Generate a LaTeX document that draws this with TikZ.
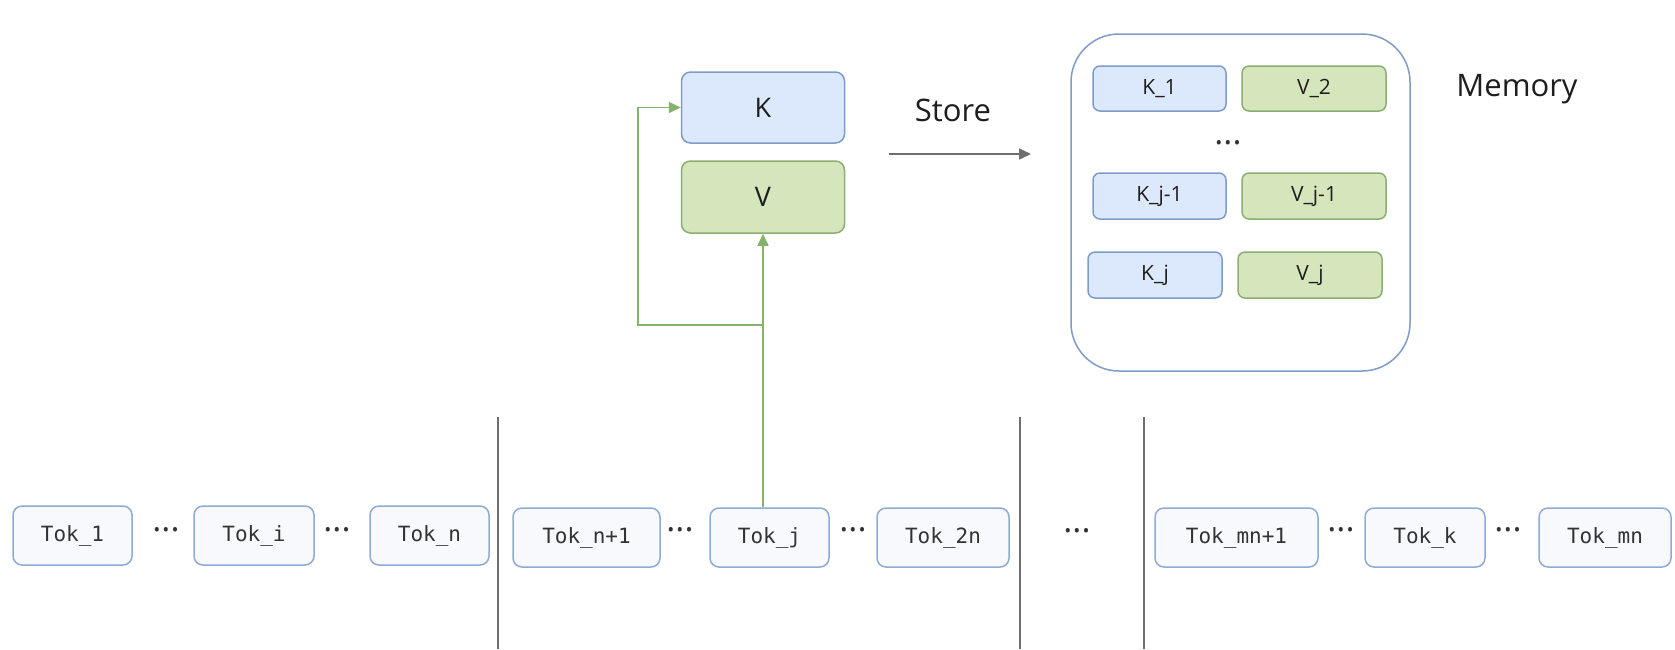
\documentclass[tikz,border=0pt]{standalone}
\usepackage{fontspec}
\setmainfont{Open Sans}
\newfontfamily\tokfont{DejaVu Sans Mono}
\usetikzlibrary{arrows.meta,calc}

\definecolor{kfill}{HTML}{DCE8FB}
\definecolor{kdraw}{HTML}{7F9CC9}
\definecolor{vfill}{HTML}{D5E6BC}
\definecolor{vdraw}{HTML}{8BAE73}
\definecolor{tokfill}{HTML}{F7F9FC}
\definecolor{tokdraw}{HTML}{8EABD6}
\definecolor{flow}{HTML}{86B26C}
\definecolor{sep}{HTML}{6E6E6E}
\definecolor{ink}{HTML}{1E1E1E}

\tikzset{
  kbox/.style={draw=kdraw, fill=kfill, line width=1.5pt, rounded corners=9pt,
    inner sep=0pt, text=ink, font=\fontsize{27}{30}\selectfont},
  vbox/.style={kbox, draw=vdraw, fill=vfill},
  memk/.style={kbox, font=\fontsize{21}{24}\selectfont, rounded corners=7pt},
  memv/.style={memk, draw=vdraw, fill=vfill},
  tok/.style={draw=tokdraw, fill=tokfill, line width=1.5pt, rounded corners=9pt,
    inner sep=0pt, minimum height=59pt, text=black!80,
    font=\tokfont\fontsize{21}{24}\selectfont},
  gap/.style={inner sep=0pt, text=black!80, font=\fontsize{34}{36}\selectfont},
  flowarrow/.style={draw=flow, line width=1.6pt, -{Triangle[length=12pt,width=11pt]}},
  sepline/.style={draw=sep, line width=1.3pt},
  label/.style={text=ink, font=\fontsize{31}{34}\selectfont}
}

\begin{document}
\begin{tikzpicture}[x=1pt,y=-1pt]
\useasboundingbox[fill=white] (0,0) rectangle (1675,649);

% key / value of the current token
\node[kbox, minimum width=163pt, minimum height=71pt] (K) at (763,107.5) {K};
\node[vbox, minimum width=163pt, minimum height=72pt] (V) at (763,197) {V};

% store step
\node[label] (store) at (953,110) {Store};
\coordinate (st0) at (889,154);
\coordinate (st1) at (1031,154);
\draw[draw=sep, line width=1.6pt, -{Triangle[length=12pt,width=11pt]}, color=sep] (st0) -- (st1);

% memory bank
\node[draw=kdraw, line width=1.5pt, rounded corners=48pt, minimum width=339pt,
      minimum height=337pt, inner sep=0pt] (mem) at (1240.5,202.5) {};
\node[memk, minimum width=133pt, minimum height=45pt] (k1) at (1159.5,88.5) {K\_1};
\node[memv, minimum width=144pt, minimum height=45pt] (v2) at (1314,88.5) {V\_2};
\node[gap] (mdots) at (1228,143) {...};
\node[memk, minimum width=133pt, minimum height=46pt] (kj1) at (1159.5,196) {K\_j-1};
\node[memv, minimum width=144pt, minimum height=46pt] (vj1) at (1314,196) {V\_j-1};
\node[memk, minimum width=134pt, minimum height=46pt] (kj) at (1155,275) {K\_j};
\node[memv, minimum width=144pt, minimum height=46pt] (vj) at (1310,275) {V\_j};
\node[label] (memlabel) at (1517,89) {Memory};

% token sequence, first segment
\node[tok, minimum width=119pt] (t1) at (72.5,535.5) {Tok\_1};
\node[gap] (d1) at (166,530) {...};
\node[tok, minimum width=120pt] (ti) at (254,535.5) {Tok\_i};
\node[gap] (d2) at (337,530) {...};
\node[tok, minimum width=119pt] (tn) at (429.5,535.5) {Tok\_n};

% second segment
\node[tok, minimum width=147pt] (tn1) at (586.5,537.5) {Tok\_n+1};
\node[gap] (d3) at (680,530) {...};
\node[tok, minimum width=119pt] (tj) at (769.5,537.5) {Tok\_j};
\node[gap] (d4) at (853,530) {...};
\node[tok, minimum width=132pt] (t2n) at (943,537.5) {Tok\_2n};

\node[gap] (d5) at (1077,531) {...};

% last segment
\node[tok, minimum width=163pt] (tm1) at (1236.5,537.5) {Tok\_mn+1};
\node[gap] (d6) at (1341,530) {...};
\node[tok, minimum width=120pt] (tk) at (1425,537.5) {Tok\_k};
\node[gap] (d7) at (1508,530) {...};
\node[tok, minimum width=132pt] (tmn) at (1605,537.5) {Tok\_mn};

% segment separators
\coordinate (s1a) at (498,417); \coordinate (s1b) at (498,649);
\coordinate (s2a) at (1020,417); \coordinate (s2b) at (1020,649);
\coordinate (s3a) at (1144,417); \coordinate (s3b) at (1144,649);
\draw[sepline] (s1a) -- (s1b);
\draw[sepline] (s2a) -- (s2b);
\draw[sepline] (s3a) -- (s3b);

% projection of Tok_j into K and V
\coordinate (br) at (638,325);
\draw[flowarrow] (V.south |- tj.north) -- (V.south);
\draw[flowarrow] (V.south |- br) -- (br) |- (K.west);
\end{tikzpicture}
\end{document}
